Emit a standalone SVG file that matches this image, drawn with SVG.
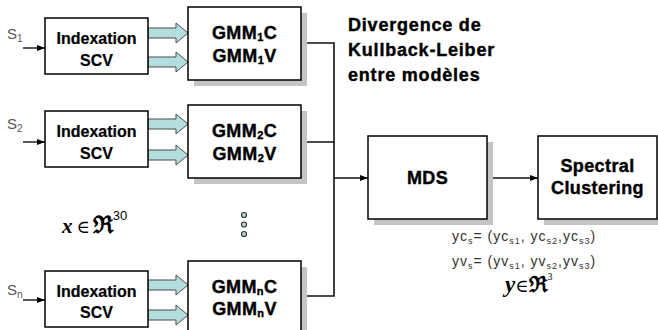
<svg xmlns="http://www.w3.org/2000/svg" width="658" height="330" viewBox="0 0 658 330">
<style>
.box{fill:#fff;stroke:#000;stroke-width:1.5}
.shadow{fill:#c4c4c4;stroke:none}
.lbl{font-family:"Liberation Sans",Arial,sans-serif;font-weight:bold;fill:#000;text-anchor:middle}
.idx{font-size:16px;stroke:#000;stroke-width:0.2}
.gmm{font-size:18px;letter-spacing:0.4px;stroke:#000;stroke-width:0.4}
.sub{font-size:11px}
.conn{fill:none;stroke:#111;stroke-width:1.6}
.in{fill:none;stroke:#111;stroke-width:1.4}
.barrow{fill:#b4dede;stroke:#4a4a4a;stroke-width:1}
.sig{font-family:"Liberation Sans",Arial,sans-serif;font-size:15px;fill:#555}
.note{font-family:"Liberation Sans",Arial,sans-serif;font-size:14px;fill:#333;letter-spacing:1px}
.math{font-family:"Liberation Serif","DejaVu Serif",serif;fill:#000}
.dot{fill:#b4dede;stroke:#333;stroke-width:1.2}
.div{font-size:18px;letter-spacing:0.8px;text-anchor:start;stroke:#000;stroke-width:0.4}
</style>
<defs>
<marker id="ah" viewBox="0 0 8 8" refX="8" refY="4" markerWidth="8" markerHeight="8" markerUnits="userSpaceOnUse" orient="auto">
<path d="M0,1 L8,4 L0,7 Z" fill="#000"/>
</marker>
<path id="ba" class="barrow" d="M0,-5 H28 V-10 L40,0 L28,10 V5 H0 Z"/>
</defs>

<g id="connectors">
<line class="in" x1="23" y1="48" x2="45" y2="48" marker-end="url(#ah)"/>
<line class="in" x1="23" y1="142" x2="45" y2="142" marker-end="url(#ah)"/>
<line class="in" x1="23" y1="300" x2="45" y2="300" marker-end="url(#ah)"/>
<use href="#ba" x="148" y="33"/>
<use href="#ba" x="148" y="62"/>
<use href="#ba" x="148" y="124"/>
<use href="#ba" x="148" y="155"/>
<use href="#ba" x="148" y="285"/>
<use href="#ba" x="148" y="315"/>
<polyline class="conn" points="301,43 334,43 334,296 301,296"/>
<line class="conn" x1="301" y1="142" x2="334" y2="142"/>
<line class="conn" x1="334" y1="178" x2="368" y2="178" marker-end="url(#ah)"/>
<line class="conn" x1="487" y1="178" x2="538" y2="178" marker-end="url(#ah)"/>
</g>

<g id="s1"><text class="sig" x="7" y="39">S<tspan font-size="10" dy="3">1</tspan></text></g>
<g id="s2"><text class="sig" x="7" y="129">S<tspan font-size="10" dy="3">2</tspan></text></g>
<g id="sn"><text class="sig" x="7" y="295">S<tspan font-size="10" dy="3">n</tspan></text></g>

<g id="index1">
<rect class="box" x="45" y="18" width="103" height="56"/>
<text class="lbl idx" x="96.5" y="44">Indexation</text>
<text class="lbl idx" x="96.5" y="66">SCV</text>
</g>
<g id="index2">
<rect class="box" x="45" y="111" width="103" height="56"/>
<text class="lbl idx" x="96.5" y="137">Indexation</text>
<text class="lbl idx" x="96.5" y="159">SCV</text>
</g>
<g id="indexn">
<rect class="box" x="45" y="271" width="103" height="56"/>
<text class="lbl idx" x="96.5" y="297">Indexation</text>
<text class="lbl idx" x="96.5" y="318">SCV</text>
</g>

<g id="gmm1">
<rect class="shadow" x="194" y="13" width="113" height="73"/>
<rect class="box" x="188" y="7" width="113" height="73"/>
<text class="lbl gmm" x="244.5" y="38.5">GMM<tspan class="sub" dy="2">1</tspan><tspan dy="-2">C</tspan></text>
<text class="lbl gmm" x="244.5" y="62">GMM<tspan class="sub" dy="2">1</tspan><tspan dy="-2">V</tspan></text>
</g>
<g id="gmm2">
<rect class="shadow" x="194" y="111" width="113" height="73"/>
<rect class="box" x="188" y="105" width="113" height="73"/>
<text class="lbl gmm" x="244.5" y="136.5">GMM<tspan class="sub" dy="2">2</tspan><tspan dy="-2">C</tspan></text>
<text class="lbl gmm" x="244.5" y="160">GMM<tspan class="sub" dy="2">2</tspan><tspan dy="-2">V</tspan></text>
</g>
<g id="gmmn">
<rect class="shadow" x="194" y="267" width="113" height="73"/>
<rect class="box" x="188" y="261" width="113" height="73"/>
<text class="lbl gmm" x="244.5" y="293">GMM<tspan class="sub" dy="2">n</tspan><tspan dy="-2">C</tspan></text>
<text class="lbl gmm" x="244.5" y="315">GMM<tspan class="sub" dy="2">n</tspan><tspan dy="-2">V</tspan></text>
</g>

<g id="dots">
<circle class="dot" cx="244" cy="215" r="2.5"/>
<circle class="dot" cx="244" cy="224.5" r="2.5"/>
<circle class="dot" cx="244" cy="234" r="2.5"/>
</g>

<g id="divergence-label">
<text class="lbl div" x="348" y="31">Divergence de</text>
<text class="lbl div" x="348" y="56">Kullback-Leiber</text>
<text class="lbl div" x="348" y="81">entre modèles</text>
</g>

<g id="mds">
<rect class="shadow" x="374" y="142" width="119" height="83"/>
<rect class="box" x="368" y="136" width="119" height="83"/>
<text class="lbl gmm" x="427.5" y="184">MDS</text>
</g>
<g id="spectral">
<rect class="shadow" x="544" y="142" width="119" height="83"/>
<rect class="box" x="538" y="136" width="119" height="83"/>
<text class="lbl gmm" x="597.5" y="172">Spectral</text>
<text class="lbl gmm" x="597.5" y="194">Clustering</text>
</g>

<g id="xspace">
<text class="math" x="62" y="233" font-size="21"><tspan font-weight="bold" font-style="italic">x</tspan><tspan dx="4" font-size="18">∈</tspan><tspan dx="3" font-family="DejaVu Serif" font-weight="bold" font-size="24">ℜ</tspan><tspan font-family="Liberation Sans" font-size="13" dy="-13">30</tspan></text>
</g>

<g id="yc">
<text class="note" x="452" y="241">yc<tspan font-size="9" dy="3">s</tspan><tspan dy="-3">= (yc</tspan><tspan font-size="9" dy="3">s1</tspan><tspan dy="-3">, yc</tspan><tspan font-size="9" dy="3">s2</tspan><tspan dy="-3">,yc</tspan><tspan font-size="9" dy="3">s3</tspan><tspan dy="-3">)</tspan></text>
</g>
<g id="yv">
<text class="note" x="452" y="266">yv<tspan font-size="9" dy="3">s</tspan><tspan dy="-3">= (yv</tspan><tspan font-size="9" dy="3">s1</tspan><tspan dy="-3">, yv</tspan><tspan font-size="9" dy="3">s2</tspan><tspan dy="-3">,yv</tspan><tspan font-size="9" dy="3">s3</tspan><tspan dy="-3">)</tspan></text>
</g>
<g id="yspace">
<text class="math" x="505" y="292" font-size="23"><tspan font-weight="bold" font-style="italic">y</tspan><tspan font-size="18">∈</tspan><tspan font-family="DejaVu Serif" font-weight="bold" font-size="22">ℜ</tspan><tspan font-family="Liberation Serif" font-size="10" dy="-12">3</tspan></text>
</g>
</svg>
